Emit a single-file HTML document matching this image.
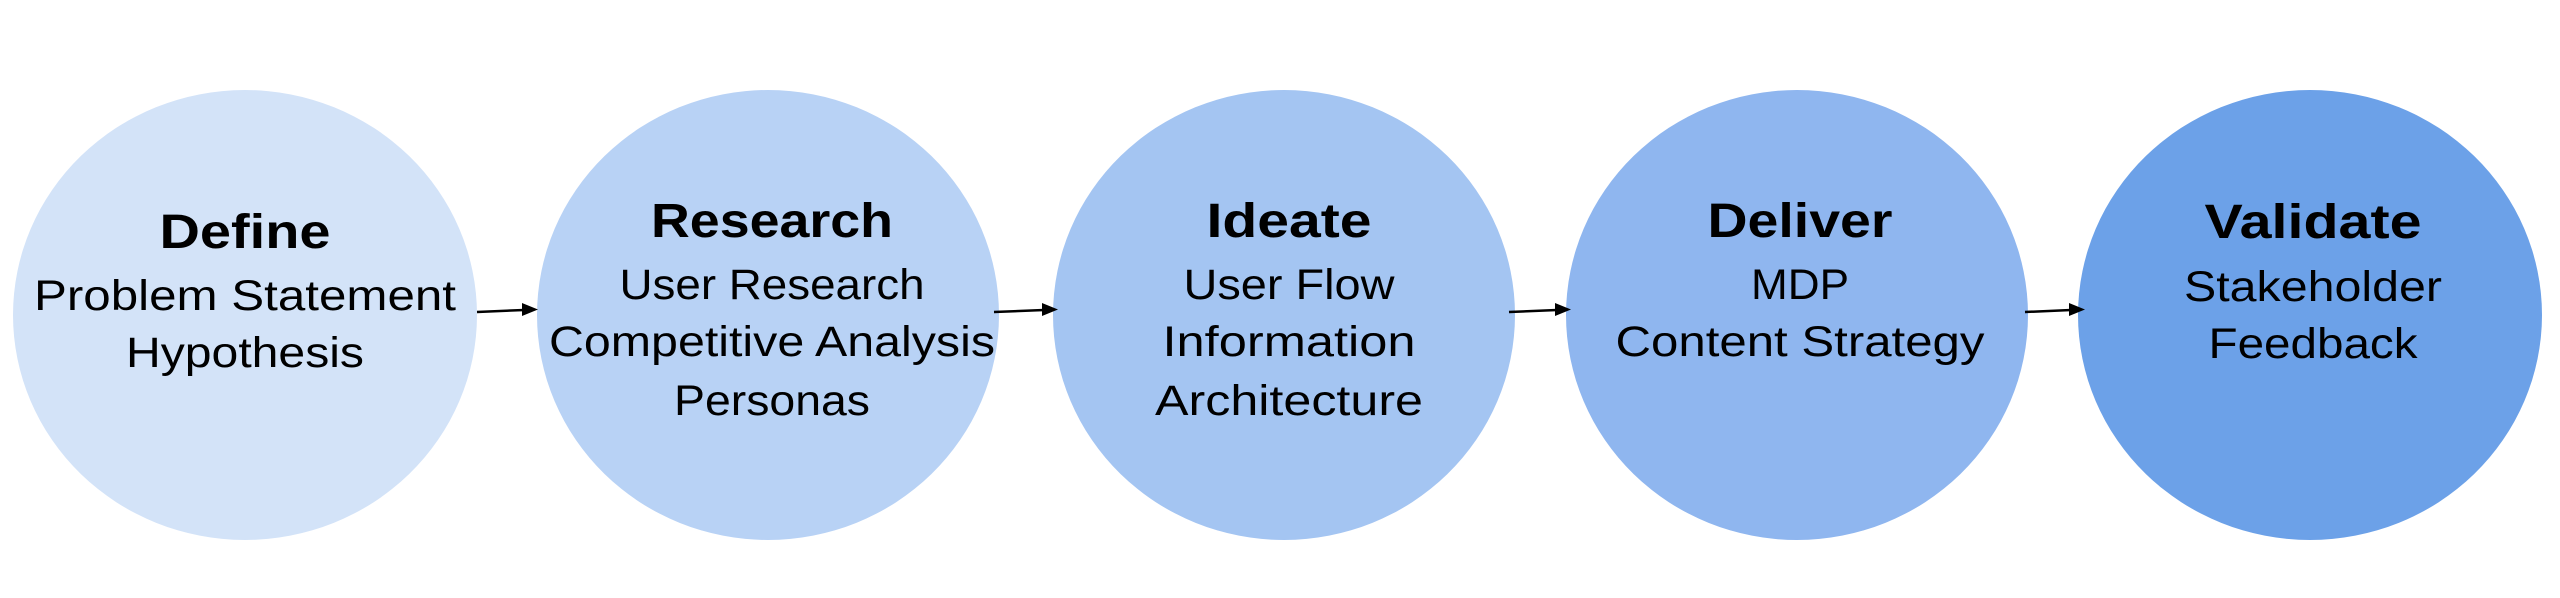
<!DOCTYPE html>
<html><head><meta charset="utf-8"><style>
html,body{margin:0;padding:0;background:#fff;}
svg{display:block}
text{font-family:"Liberation Sans",sans-serif;text-anchor:middle;fill:#000}
.t{font-weight:bold;font-size:48px}
.s{font-size:43px}
</style></head><body>
<svg width="2560" height="598" viewBox="0 0 2560 598" xmlns="http://www.w3.org/2000/svg">
<ellipse cx="245" cy="315" rx="232" ry="225" fill="#d3e3f8"/>
<ellipse cx="768" cy="315" rx="231" ry="225" fill="#b8d2f5"/>
<ellipse cx="1284" cy="315" rx="231" ry="225" fill="#a4c5f2"/>
<ellipse cx="1797" cy="315" rx="231" ry="225" fill="#8fb6ef"/>
<ellipse cx="2310" cy="315" rx="232" ry="225" fill="#6ca1e8"/>
<g stroke="#000" stroke-width="2.5">
<line x1="477" y1="312" x2="524" y2="310"/>
<line x1="994" y1="312" x2="1044" y2="310"/>
<line x1="1509" y1="312" x2="1557" y2="310"/>
<line x1="2025" y1="312" x2="2071" y2="310"/>
</g>
<g fill="#000">
<path d="M538,309.5 L522,303 L522,316 Z"/>
<path d="M1058,309.5 L1042,303 L1042,316 Z"/>
<path d="M1571,309.5 L1555,303 L1555,316 Z"/>
<path d="M2085,309.5 L2069,303 L2069,316 Z"/>
</g>
<g lengthAdjust="spacingAndGlyphs">
<text class="t" x="245" y="248" textLength="171" lengthAdjust="spacingAndGlyphs">Define</text>
<text class="s" x="245" y="310" textLength="422" lengthAdjust="spacingAndGlyphs">Problem Statement</text>
<text class="s" x="245" y="367" textLength="238" lengthAdjust="spacingAndGlyphs">Hypothesis</text>
<text class="t" x="772" y="237" textLength="242" lengthAdjust="spacingAndGlyphs">Research</text>
<text class="s" x="772" y="299" textLength="305" lengthAdjust="spacingAndGlyphs">User Research</text>
<text class="s" x="772" y="356" textLength="446" lengthAdjust="spacingAndGlyphs">Competitive Analysis</text>
<text class="s" x="772" y="415" textLength="196" lengthAdjust="spacingAndGlyphs">Personas</text>
<text class="t" x="1289" y="237" textLength="165" lengthAdjust="spacingAndGlyphs">Ideate</text>
<text class="s" x="1289" y="299" textLength="211" lengthAdjust="spacingAndGlyphs">User Flow</text>
<text class="s" x="1289" y="356" textLength="253" lengthAdjust="spacingAndGlyphs">Information</text>
<text class="s" x="1289" y="415" textLength="268" lengthAdjust="spacingAndGlyphs">Architecture</text>
<text class="t" x="1800" y="237" textLength="185" lengthAdjust="spacingAndGlyphs">Deliver</text>
<text class="s" x="1800" y="299" textLength="98" lengthAdjust="spacingAndGlyphs">MDP</text>
<text class="s" x="1800" y="356" textLength="369" lengthAdjust="spacingAndGlyphs">Content Strategy</text>
<text class="t" x="2313" y="238" textLength="217" lengthAdjust="spacingAndGlyphs">Validate</text>
<text class="s" x="2313" y="301" textLength="258" lengthAdjust="spacingAndGlyphs">Stakeholder</text>
<text class="s" x="2313" y="358" textLength="209" lengthAdjust="spacingAndGlyphs">Feedback</text>
</g>
</svg>
</body></html>
